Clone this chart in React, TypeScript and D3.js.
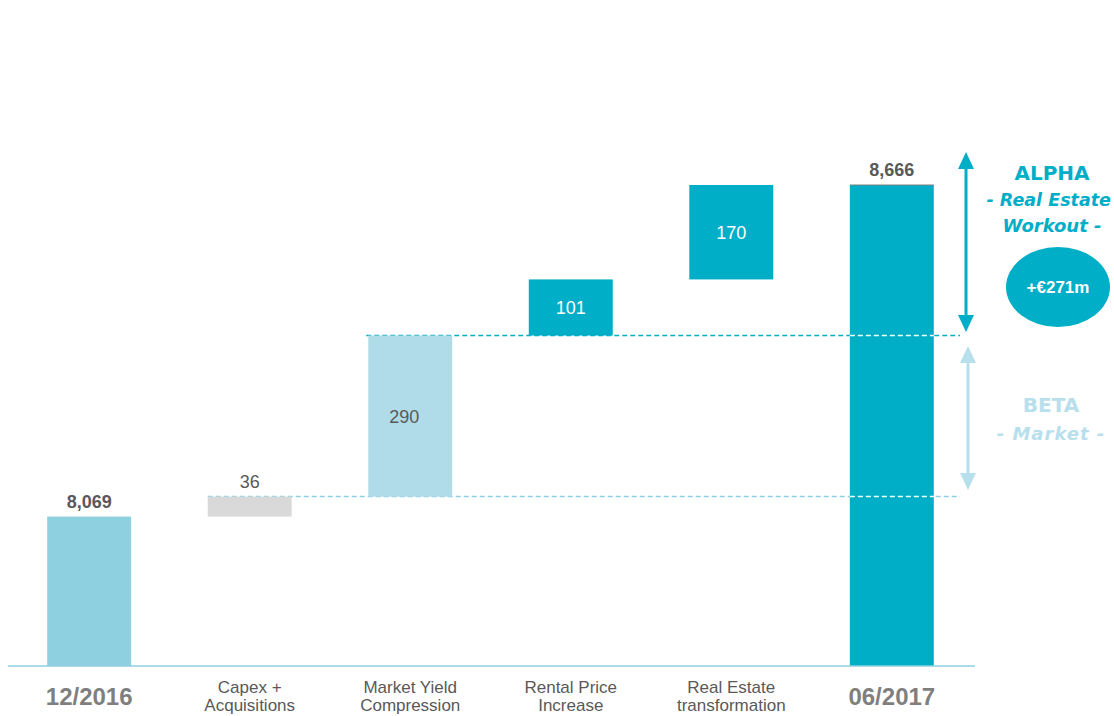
import React from "react";
import * as d3 from "d3";

const categories = ["12/2016", "Capex +|Acquisitions", "Market Yield|Compression", "Rental Price|Increase", "Real Estate|transformation", "06/2017"];
const values = [8069, 36, 290, 101, 170, 8666];
const kinds = ["total", "delta", "delta", "delta", "delta", "total"];
const barColors = ["#8ECFE0", "#D9D9D9", "#B0DCE9", "#00AEC7", "#00AEC7", "#00AEC7"];
const labelInside = [false, false, true, true, true, false];
const yDomain = [7800, 8666];
const alphaLabel = ["ALPHA", "- Real Estate", "Workout -"];
const betaLabel = ["BETA", "- Market -"];
const alphaValue = "+€271m";

export default function App() {
  const W = 1114, H = 716;
  const x = d3.scaleBand<string>().domain(categories).range([9, 972]).paddingInner(0.477).paddingOuter(0.238);
  const y = d3.scaleLinear().domain(yDomain).range([666, 185]);
  const bw = x.bandwidth();

  let run = 0;
  const bars = values.map((v, i) => {
    let lo: number, hi: number;
    if (kinds[i] === "total") { lo = yDomain[0]; hi = v; run = v; }
    else { lo = run; hi = run + v; run = hi; }
    return { cat: categories[i], v, lo, hi, i };
  });
  const fmt = d3.format(",");
  const betaLevel = bars[1].hi;
  const alphaLevel = bars[2].hi;
  const last = bars[5];
  const lastX = x(last.cat)!;
  const lineEnd = 960;

  const font = "'Liberation Sans', Arial, sans-serif";
  const annFont = "'DejaVu Sans', Verdana, sans-serif";
  const teal = "#00AEC7";
  const light = "#B7E0EC";

  const arrow = (cx: number, y1: number, y2: number, color: string) => (
    <g>
      <line x1={cx} x2={cx} y1={y1 + 14} y2={y2 - 14} stroke={color} strokeWidth={3} />
      <path d={`M${cx},${y1} L${cx - 8},${y1 + 17} L${cx + 8},${y1 + 17} Z`} fill={color} />
      <path d={`M${cx},${y2} L${cx - 8},${y2 - 17} L${cx + 8},${y2 - 17} Z`} fill={color} />
    </g>
  );

  return (
    <svg width={W} height={H} style={{ position: "absolute", left: 0, top: 0, background: "#fff" }}>
      <line x1={x(categories[1])!} x2={lineEnd} y1={y(betaLevel)} y2={y(betaLevel)} stroke="#8ECFE0" strokeWidth={1.5} strokeDasharray="5,3" />
      <line x1={x(categories[2])! - 2} x2={lineEnd} y1={y(alphaLevel)} y2={y(alphaLevel)} stroke={teal} strokeWidth={1.5} strokeDasharray="5,3" />
      {bars.map(b => (
        <rect key={b.cat} x={x(b.cat)} width={bw} y={y(b.hi)} height={y(b.lo) - y(b.hi)} fill={barColors[b.i]} />
      ))}
      <line x1={lastX} x2={lastX + bw} y1={y(last.hi)} y2={y(last.hi)} stroke="#808080" strokeWidth={1.2} />
      <line x1={lastX} x2={lastX + bw} y1={y(betaLevel)} y2={y(betaLevel)} stroke="#fff" strokeWidth={1.5} strokeDasharray="5,3" />
      <line x1={lastX} x2={lastX + bw} y1={y(alphaLevel)} y2={y(alphaLevel)} stroke="#fff" strokeWidth={1.5} strokeDasharray="5,3" />
      <line x1={8} x2={975} y1={666} y2={666} stroke="#8ECFE0" strokeWidth={1.5} />
      {bars.map(b => {
        const cx = x(b.cat)! + bw / 2;
        if (labelInside[b.i]) {
          const inside = b.i === 2;
          return (
            <text key={"v" + b.cat} x={inside ? cx - 6 : cx} y={(y(b.hi) + y(b.lo)) / 2 + 7} textAnchor="middle"
              fontFamily={font} fontSize={18} fill={inside ? "#595959" : "#fff"}>{fmt(b.v)}</text>
          );
        }
        const bold = kinds[b.i] === "total";
        return (
          <text key={"v" + b.cat} x={cx} y={y(b.hi) - 9} textAnchor="middle" fontFamily={font} fontSize={18}
            fontWeight={bold ? "bold" : "normal"} fill="#595959">{fmt(b.v)}</text>
        );
      })}
      {categories.map((c, i) => {
        const cx = x(c)! + bw / 2;
        if (kinds[i] === "total") {
          return <text key={"c" + c} x={cx} y={705} textAnchor="middle" fontFamily={font} fontSize={24} fontWeight="bold" fill="#7F7F7F">{c}</text>;
        }
        const parts = c.split("|");
        return (
          <text key={"c" + c} textAnchor="middle" fontFamily={font} fontSize={17} fill="#595959">
            {parts.map((p, k) => <tspan key={k} x={cx} y={693 + k * 18}>{p}</tspan>)}
          </text>
        );
      })}
      {arrow(966, 152, 332, teal)}
      {arrow(968, 346, 490, light)}
      <text x={1052} y={180} textAnchor="middle" fontFamily={annFont} fontSize={20} fontWeight="bold" fill={teal}>{alphaLabel[0]}</text>
      <text x={1111} y={206} textAnchor="end" fontFamily={annFont} fontSize={17.5} fontWeight="bold" fontStyle="italic" fill={teal}>{alphaLabel[1]}</text>
      <text x={1052} y={232} textAnchor="middle" fontFamily={annFont} fontSize={18} fontWeight="bold" fontStyle="italic" fill={teal}>{alphaLabel[2]}</text>
      <ellipse cx={1058} cy={287} rx={52} ry={40} fill={teal} />
      <text x={1058} y={293} textAnchor="middle" fontFamily={font} fontSize={17} fontWeight="bold" fill="#fff">{alphaValue}</text>
      <text x={1051} y={412} textAnchor="middle" fontFamily={annFont} fontSize={20} fontWeight="bold" fill={light}>{betaLabel[0]}</text>
      <text x={1051} y={440} textAnchor="middle" fontFamily={annFont} fontSize={18} fontWeight="bold" fontStyle="italic" fill={light} letterSpacing={1}>{betaLabel[1]}</text>
    </svg>
  );
}
